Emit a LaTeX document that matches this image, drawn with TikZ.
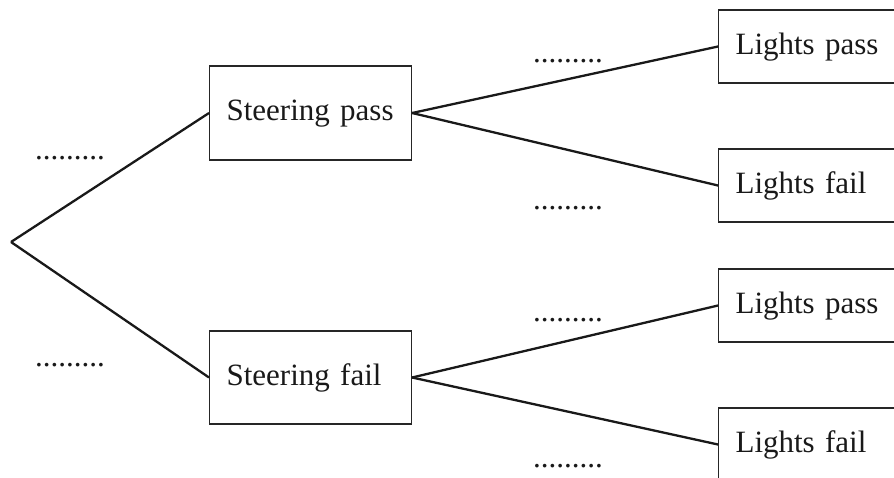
\documentclass[tikz,border=0pt]{standalone}
\usepackage{fontspec}
\setmainfont{Liberation Serif}
\def\foo{\vphantom{fy}}

\begin{document}
\begin{tikzpicture}[x=1pt,y=-1pt,
  every node/.style={font=\fontsize{31}{36}\selectfont,text=black!90},
  box/.style={draw=black!85,line width=1.1pt,align=left,inner xsep=17pt,inner ysep=0pt,anchor=west},
  branch/.style={draw=black!90,line width=2.3pt}]
  \useasboundingbox (0,0) rectangle (894,477);
  \clip (0,0) rectangle (894,477);

  \coordinate (0) at (11,242);
  \node[box,text width=168pt,minimum height=94pt] (1) at (209,113) {Steering pass\foo};
  \node[box,text width=168pt,minimum height=93pt] (2) at (209,377.5) {Steering fail\foo};
  \node[box,text width=200pt,minimum height=73pt] (3) at (718,46.5) {Lights pass\foo};
  \node[box,text width=200pt,minimum height=73pt] (4) at (718,185.5) {Lights fail\foo};
  \node[box,text width=200pt,minimum height=73pt] (5) at (718,305.5) {Lights pass\foo};
  \node[box,text width=200pt,minimum height=73pt] (6) at (718,444.5) {Lights fail\foo};

  \draw[branch] (0) -- (1.west);
  \draw[branch] (0) -- (2.west);
  \draw[branch] (1.east) -- (3.west);
  \draw[branch] (1.east) -- (4.west);
  \draw[branch] (2.east) -- (5.west);
  \draw[branch] (2.east) -- (6.west);

  \node (d1) at (70,158) {.........};
  \node (d2) at (70,365) {.........};
  \node (d3) at (568,61) {.........};
  \node (d4) at (568,208) {.........};
  \node (d5) at (568,320) {.........};
  \node (d6) at (568,466) {.........};
\end{tikzpicture}
\end{document}
